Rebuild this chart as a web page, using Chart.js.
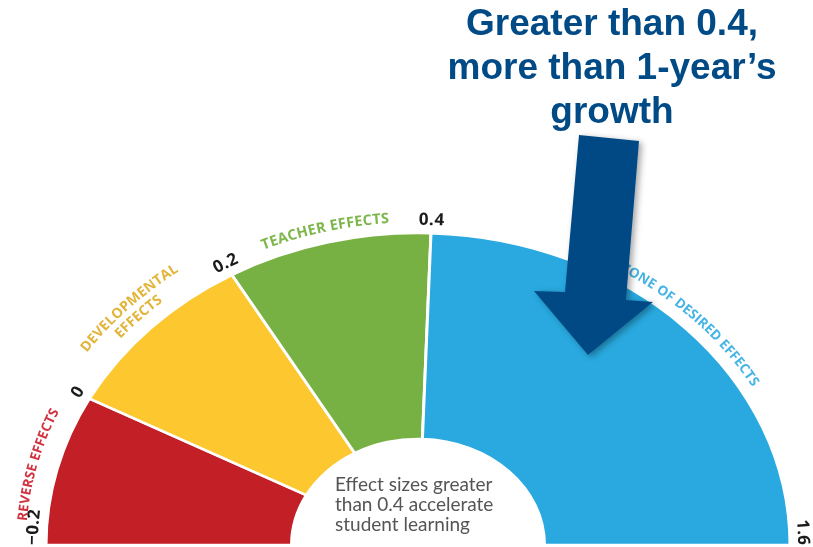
<!DOCTYPE html>
<html>
<head>
<meta charset="utf-8">
<script src="https://cdn.jsdelivr.net/npm/chart.js@4.4.1/dist/chart.umd.min.js"></script>
<style>
  html, body { margin: 0; padding: 0; background: #fff; }
  body { width: 813px; height: 547px; position: relative; overflow: hidden; }
  #wrap { position: absolute; left: 0; top: 0; width: 813px; height: 547px; }
  svg { position: absolute; left: 0; top: 0; }
  .title {
    position: absolute; left: 412px; top: 1px; width: 400px;
    text-align: center; color: #004a86;
    font: bold 37px "Liberation Sans", Arial, sans-serif; line-height: 44px;
  }
  .note {
    position: absolute; left: 335px; top: 474px;
    font: 19px Lato, sans-serif; line-height: 20px; color: #555;
  }
</style>
</head>
<body>
<div id="wrap"><canvas id="gauge"></canvas></div>
<svg width="813" height="547">
  <defs>
    <filter id="shade" x="-20%" y="-20%" width="140%" height="140%">
      <feDropShadow dx="3" dy="2" stdDeviation="3" flood-color="#000" flood-opacity="0.35"/>
    </filter>
  </defs>
  <polygon points="579,135 639,141 626,300 653,302 588,355 534,291 565,292" fill="#034a85" filter="url(#shade)"/>
</svg>
<div class="title">Greater than 0.4,<br>more than 1-year’s<br>growth</div>
<div class="note">Effect sizes greater<br>than 0.4 accelerate<br>student learning</div>
<script>
// zones of the dial, left to right
const categories = ["REVERSE EFFECTS", "DEVELOPMENTAL EFFECTS", "TEACHER EFFECTS", "ZONE OF DESIRED EFFECTS"];
// share of the half dial each zone takes (degrees)
const arcSpans = [28, 32, 32, 88];
// effect size at each zone edge
const tickLabels = ["−0.2", "0", "0.2", "0.4", "1.6"];

const zoneColors = ["#c21f26", "#fdc82f", "#77b143", "#29a9df"];
const labelColors = ["#cf3340", "#e3b43a", "#7db64c", "#45b4e4"];
const labelLines = categories.map(c => c === "DEVELOPMENTAL EFFECTS" ? c.split(" ") : [c]);
const zoneLabelStyle = [
  { size: 13.5, spacing: 0.2, dist: [24] },
  { size: 14, spacing: 0.3, dist: [33, 17] },
  { size: 14.5, spacing: 0.3, dist: [15] },
  { size: 13.5, spacing: 0.2, dist: [15] },
];

// the dial in the picture is flattened, so draw it squashed vertically
const squish = 312 / 372;

function advance(t, dist, a, b) {
  const n = 8;
  for (let i = 0; i < n; i++) {
    t += dist / n / Math.hypot(a * Math.sin(t), b * Math.cos(t));
  }
  return t;
}

function textOnArc(ctx, text, theta, dist, align, cx, cy, R, spacing) {
  const a = R + dist, b = R * squish + dist;
  const chars = [...text];
  const widths = chars.map(ch => ctx.measureText(ch).width + spacing);
  const total = widths.reduce((s, w) => s + w, 0) - spacing;
  let t = theta;
  if (align === "center") t = advance(theta, -total / 2, a, b);
  else if (align === "right") t = advance(theta, -total, a, b);
  chars.forEach((ch, i) => {
    const tc = advance(t, (widths[i] - spacing) / 2, a, b);
    ctx.save();
    ctx.translate(cx + a * Math.cos(tc), cy + b * Math.sin(tc));
    ctx.rotate(Math.atan2(b * Math.cos(tc), -a * Math.sin(tc)));
    ctx.fillText(ch, 0, 0);
    ctx.restore();
    t = advance(t, widths[i], a, b);
  });
}

function drawLabels(chart) {
  const ctx = chart.ctx;
  const arcs = chart.getDatasetMeta(0).data;
  const { x: cx, y: cy, outerRadius: R } = arcs[0];
  ctx.save();
  ctx.textAlign = "center";
  ctx.textBaseline = "middle";

  // values at the zone edges
  ctx.fillStyle = "#1b1b1b";
  ctx.font = 'bold 17px "Open Sans"';
  tickLabels.forEach((lbl, i) => {
    const theta = i < arcs.length ? arcs[i].startAngle : arcs[arcs.length - 1].endAngle;
    const align = i === 0 ? "left" : (i === tickLabels.length - 1 ? "right" : "center");
    textOnArc(ctx, lbl, theta, 13, align, cx, cy, R, 0.5);
  });

  // zone names round the rim
  arcs.forEach((arc, i) => {
    const st = zoneLabelStyle[i];
    ctx.fillStyle = labelColors[i];
    ctx.font = `bold ${st.size}px "Open Sans"`;
    labelLines[i].forEach((line, j) => {
      textOnArc(ctx, line, (arc.startAngle + arc.endAngle) / 2, st.dist[j], "center", cx, cy, R, st.spacing);
    });
  });
  ctx.restore();
}

const dialPlugin = {
  id: "dial",
  beforeDatasetsDraw(chart) {
    const arc = chart.getDatasetMeta(0).data[0];
    const ctx = chart.ctx;
    ctx.save();
    ctx.translate(arc.x, arc.y);
    ctx.scale(1, squish);
    ctx.translate(-arc.x, -arc.y);
  },
  afterDatasetsDraw(chart) {
    chart.ctx.restore();
    drawLabels(chart);
  },
};

new Chart(document.getElementById("gauge"), {
  type: "doughnut",
  data: {
    labels: categories,
    datasets: [{
      data: arcSpans,
      backgroundColor: zoneColors,
      borderColor: "#fff",
      borderWidth: 3,
      hoverOffset: 0,
    }],
  },
  options: {
    responsive: true,
    maintainAspectRatio: false,
    animation: false,
    events: [],
    rotation: -90,
    circumference: 180,
    cutout: "34%",
    radius: 372,
    layout: { padding: { left: 46, right: 23, top: 173, bottom: 2 } },
    plugins: {
      legend: { display: false },
      tooltip: { enabled: false },
    },
  },
  plugins: [dialPlugin],
});
</script>
</body>
</html>
